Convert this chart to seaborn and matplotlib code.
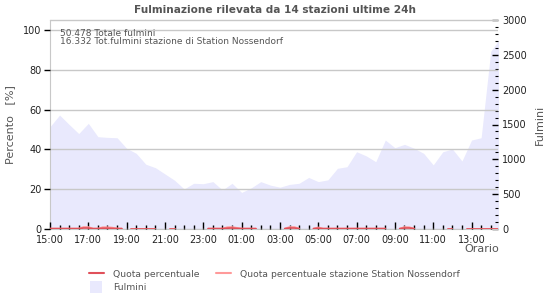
import numpy as np
import pandas as pd
import matplotlib
matplotlib.use("Agg")
import matplotlib.pyplot as plt
import seaborn as sns
from matplotlib.lines import Line2D

sns.set_style("white")
plt.rcParams['font.family'] = ['DejaVu Sans']

# ---- data ----
title = "Fulminazione rilevata da 14 stazioni ultime 24h"
info_lines = ["50.478 Totale fulmini", "16.332 Tot.fulmini stazione di Station Nossendorf"]
start_time = "2024-01-01 15:00"
tick_labels = ["15:00", "17:00", "19:00", "21:00", "23:00", "01:00", "03:00",
               "05:00", "07:00", "09:00", "11:00", "13:00"]

# lightning counts, every 30 minutes from 15:00
fulmini = [1468, 1636, 1500, 1370, 1517, 1325, 1315, 1310, 1158, 1086,
           930, 880, 790, 700, 575, 656, 650, 680, 560, 656,
           525, 590, 680, 630, 600, 640, 656, 740, 680, 705,
           871, 894, 1109, 1050, 966, 1277, 1167, 1215, 1160, 1086,
           920, 1109, 1148, 976, 1277, 1310, 2550, 2740]

N = None
# percentage share, every 15 minutes from 15:00
quota = [0.2, 0.2, 0.2, 0.2, 0.2, 0.2, 0.2, 0.5, 0.5, 0.2,
         0.2, 0.4, 0.4, 0.3, 0.2, 0.2, N, 0.2, 0.2, 0.2,
         0.2, 0.2, 0.2, N, N, 0.2, 0.2, N, N, N,
         N, N, N, 0.2, 0.2, 0.2, 0.2, 0.4, 0.5, 0.3,
         0.2, 0.2, 0.2, 0.2, N, N, N, N, N, 0.2,
         0.5, 0.5, 0.2, N, N, 0.2, 0.4, 0.2, 0.2, 0.2,
         0.2, 0.2, 0.2, 0.2, 0.2, 0.2, 0.2, 0.2, 0.2, 0.2,
         0.2, N, N, 0.2, 0.5, 0.5, 0.2, N, N, N,
         N, N, N, 0.2, 0.2, N, N, 0.2, 0.2, 0.2,
         0.2, 0.2, 0.2, 0.2, 0.2]
quota_staz = [0.2, 0.2, 0.2, 0.2, 0.2, 0.2, 0.2, 1.0, 1.0, 0.2,
              0.2, 0.9, 0.9, 0.7, 0.3, 0.2, N, 0.2, 0.2, 0.2,
              0.2, 0.2, 0.2, N, N, 0.2, 0.2, N, N, N,
              N, N, N, 0.2, 0.2, 0.2, 0.2, 0.9, 1.0, 0.6,
              0.2, 0.2, 0.2, 0.2, N, N, N, N, N, 0.2,
              1.0, 1.0, 0.2, N, N, 0.2, 0.8, 0.2, 0.2, 0.2,
              0.2, 0.2, 0.2, 0.2, 0.2, 0.2, 0.2, 0.2, 0.2, 0.2,
              0.2, N, N, 0.2, 1.0, 0.9, 0.2, N, N, N,
              N, N, N, 0.2, 0.2, N, N, 0.2, 0.2, 0.2,
              0.2, 0.2, 0.2, 0.2, 0.2]

legend_labels = ["Quota percentuale", "Quota percentuale stazione Station Nossendorf", "Fulmini"]

# ---- frames ----
t0 = pd.Timestamp(start_time)
t_f = pd.date_range(t0, periods=len(fulmini), freq="30min")
t_q = pd.date_range(t0, periods=len(quota), freq="15min")
df_f = pd.DataFrame({"h": (t_f - t0).total_seconds() / 3600, "v": fulmini})


def segments(values, times):
    d = pd.DataFrame({"h": (times - t0).total_seconds() / 3600,
                      "y": pd.to_numeric(pd.Series(values, dtype="object"), errors="coerce")})
    d["seg"] = d["y"].isna().cumsum()
    return d.dropna(subset=["y"])


df_q = segments(quota, t_q)
df_s = segments(quota_staz, t_q)

C_MAIN = "#e0505a"
C_STAZ = "#ff9a9a"
C_FILL = "#e9e9fd"
C_GRID = "#c8c8c8"
C_TXT = "#555555"

fig = plt.figure(figsize=(5.5, 3.0), dpi=100)
ax = fig.add_axes([50/550, 1-229/300, 448/550, 209/300])
ax2 = ax.twinx()

# area on right axis (drawn behind)
ax2.fill_between(df_f["h"], 0, df_f["v"], color=C_FILL, linewidth=0, zorder=0.2)
ax2.set_ylim(0, 3000)
ax2.set_axisbelow(False)

ax.set_zorder(ax2.get_zorder() + 1)
ax.patch.set_visible(False)
ax.set_axisbelow(False)

sns.lineplot(data=df_s, x="h", y="y", units="seg", estimator=None, ax=ax,
             color=C_STAZ, linewidth=1.2, zorder=4)
sns.lineplot(data=df_q, x="h", y="y", units="seg", estimator=None, ax=ax,
             color=C_MAIN, linewidth=1.2, zorder=5)

ax.set_xlim(0, 23.38)
ax.set_ylim(0, 105)
ax.set_yticks([0, 20, 40, 60, 80, 100])
ax.yaxis.grid(True, color=C_GRID, linewidth=1)
ax.axhline(105, color=C_GRID, linewidth=1, clip_on=False)
ax.set_xticks(np.arange(0, 23, 2))
ax.set_xticklabels(tick_labels)
ax.set_xticks(np.arange(0, 23.4, 0.5), minor=True)
ax.tick_params(axis="x", which="both", bottom=True, top=False)
ax.tick_params(axis="y", which="both", left=True, right=False)
ax.tick_params(axis="x", which="major", direction="in", length=5, width=1, color="black",
               labelsize=7, pad=4, labelcolor="#222222")
ax.tick_params(axis="x", which="minor", direction="in", length=3, width=1, color="black")
ax.tick_params(axis="y", which="major", direction="out", length=4, width=1, color="black",
               labelsize=7, pad=2, labelcolor="#222222")
ax.set_xlabel("")
ax.set_ylabel("Percento   [%]", fontsize=8, color=C_TXT, labelpad=6)

ax2.set_yticks(np.arange(0, 3001, 500))
ax2.set_yticks(np.arange(0, 3001, 100), minor=True)
ax2.tick_params(axis="y", which="both", right=True, left=False)
ax2.tick_params(axis="y", which="major", direction="in", length=4, width=1, color="black",
                labelsize=7, pad=3, labelcolor="#222222")
ax2.tick_params(axis="y", which="minor", direction="in", length=2.5, width=0.8, color="black")
ax2.set_ylabel("Fulmini", fontsize=8, color=C_TXT, labelpad=6)

for a in (ax, ax2):
    for s in ("top", "right"):
        a.spines[s].set_visible(False)
    a.spines["left"].set_color(C_GRID)
    a.spines["bottom"].set_color(C_GRID)
ax2.spines["left"].set_visible(False)
ax2.spines["bottom"].set_visible(False)

fig.text(0.5, 1-10/300, title, ha="center", va="center", fontsize=7.6,
         fontweight="bold", color=C_TXT)
ax.text(60/550, 1-33/300, info_lines[0], transform=fig.transFigure, fontsize=6.5,
        color=C_TXT, va="center", ha="left")
ax.text(60/550, 1-41/300, info_lines[1], transform=fig.transFigure, fontsize=6.5,
        color=C_TXT, va="center", ha="left")
fig.text(499/550, 1-249.5/300, "Orario", ha="right", va="center", fontsize=8, color=C_TXT)

handles = [Line2D([], [], color=C_MAIN, linewidth=1.5),
           Line2D([], [], marker="s", markersize=8, linestyle="none",
                  color=C_FILL, markeredgewidth=0),
           Line2D([], [], color=C_STAZ, linewidth=1.5)]
labels = [legend_labels[0], legend_labels[2], legend_labels[1]]
fig.legend(handles, labels, ncol=2, loc="upper left", bbox_to_anchor=(84/550, 1-265/300),
           frameon=False, fontsize=6.7, labelcolor=C_TXT, handlelength=1.6,
           handletextpad=1.0, columnspacing=1.8, labelspacing=0.5, borderpad=0)

fig.savefig("out.png", dpi=100)
